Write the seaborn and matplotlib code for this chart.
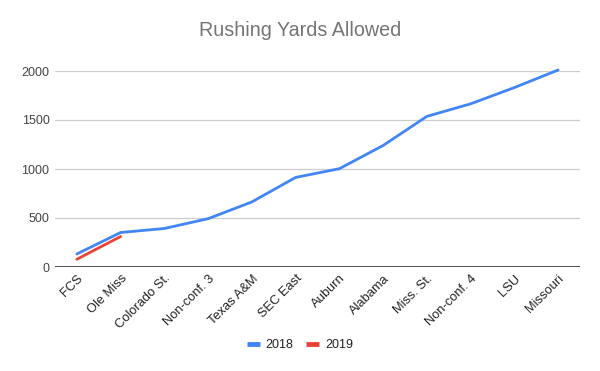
import matplotlib
matplotlib.use("Agg")
import matplotlib.pyplot as plt
import seaborn as sns
import pandas as pd

categories = ["FCS", "Ole Miss", "Colorado St.", "Non-conf. 3", "Texas A&M", "SEC East",
              "Auburn", "Alabama", "Miss. St.", "Non-conf. 4", "LSU", "Missouri"]
yards_2018 = [133, 352, 393, 493, 664, 914, 1003, 1240, 1537, 1665, 1831, 2010]
yards_2019 = [79, 311]
y_ticks = [0, 500, 1000, 1500, 2000]

rows = []
for i, v in enumerate(yards_2018):
    rows.append({"idx": i, "yards": v, "season": "2018"})
for i, v in enumerate(yards_2019):
    rows.append({"idx": i, "yards": v, "season": "2019"})
df = pd.DataFrame(rows)

sns.set_style("white")
plt.rcParams['font.family'] = ['Liberation Sans', 'DejaVu Sans']

fig = plt.figure(figsize=(6, 3.71), dpi=100)
ax = fig.add_axes([55/600, 1-267/371, 525/600, 196/371])

palette = {"2018": "#4285F4", "2019": "#EA4335"}
sns.lineplot(data=df, x="idx", y="yards", hue="season", palette=palette, ax=ax,
             linewidth=2, legend=False, clip_on=False)

ax.set_xlim(-0.5, len(categories) - 0.5)
ax.set_ylim(0, 2000)
ax.set_yticks(y_ticks)
ax.set_yticklabels([str(t) for t in y_ticks], color="#444444", fontsize=9)
ax.set_xticks(range(len(categories)))
ax.set_xticklabels(categories, rotation=45, ha="right", rotation_mode="anchor",
                   color="#222222", fontsize=9.3)
ax.tick_params(axis="both", length=0, pad=4)
ax.set_xlabel("")
ax.set_ylabel("")
for s in ax.spines.values():
    s.set_visible(False)
ax.grid(axis="y", color="#cccccc", linewidth=0.9)
ax.axhline(0, color="#333333", linewidth=1.2, zorder=1)
ax.set_axisbelow(True)

fig.text(0.5, 1-31/371, "Rushing Yards Allowed", ha="center", va="center",
         fontsize=14.2, color="#757575")

from matplotlib.lines import Line2D
handles = [Line2D([], [], color=palette[k], linewidth=3.5, solid_capstyle="butt")
           for k in ["2018", "2019"]]
fig.legend(handles, ["2018", "2019"], loc="center", bbox_to_anchor=(0.5, 1-345/371),
           ncol=2, frameon=False, fontsize=9, handlelength=1.0, handletextpad=0.5,
           columnspacing=1.0, labelcolor="#222222")

fig.savefig("out.png", dpi=100)
